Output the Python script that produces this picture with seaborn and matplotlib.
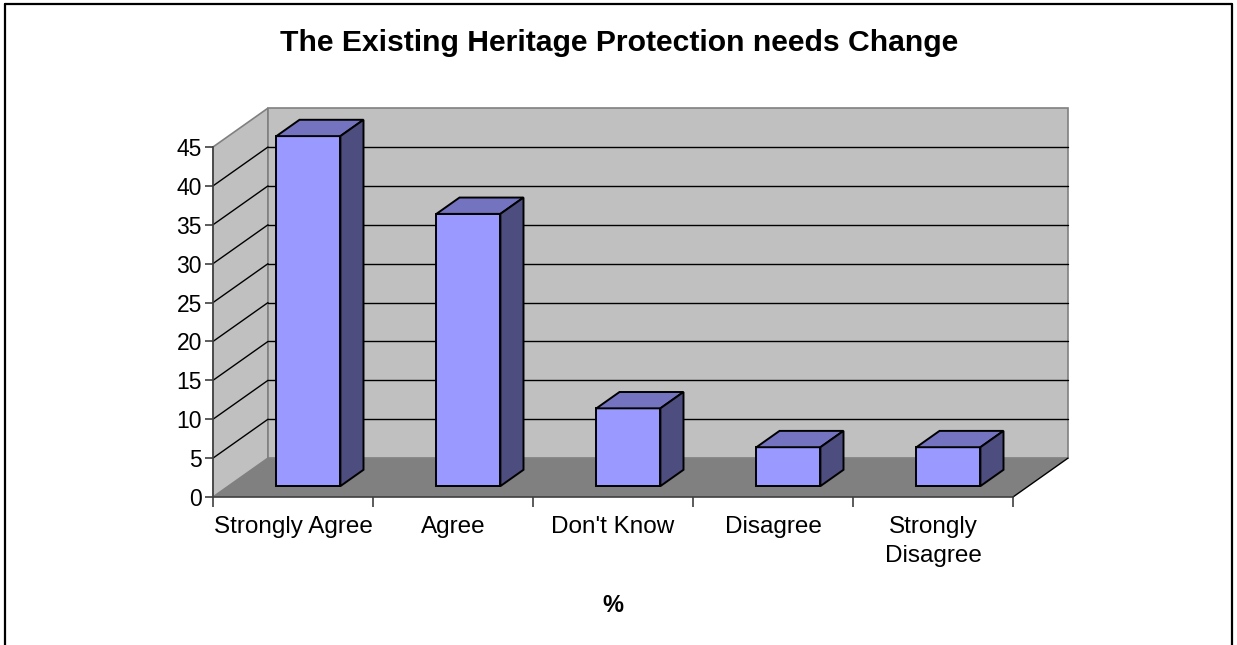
import matplotlib
matplotlib.use("Agg")
import matplotlib.pyplot as plt
from matplotlib.patches import Polygon
from matplotlib.lines import Line2D
import seaborn as sns
import pandas as pd

# ---- data ----
categories = ["Strongly Agree", "Agree", "Don't Know", "Disagree", "Strongly\nDisagree"]
values = [45, 35, 10, 5, 5]
yticks = [0, 5, 10, 15, 20, 25, 30, 35, 40, 45]
title = "The Existing Heritage Protection needs Change"
xlabel = "%"

sns.set_theme(style="white")
plt.rcParams['font.family'] = ['Liberation Sans', 'DejaVu Sans']
plt.rcParams['text.color'] = 'black'
plt.rcParams['axes.labelcolor'] = 'black'
plt.rcParams['xtick.color'] = 'black'
plt.rcParams['ytick.color'] = 'black'

W, H = 1237, 645
fig = plt.figure(figsize=(W / 100, H / 100), dpi=100)
fig.patch.set_facecolor("white")

# front frame: x 213..1013 px, y 497..147 px
ax = fig.add_axes([213 / W, (H - 497) / H, 800 / W, 350 / H])
ax.patch.set_alpha(0)

df = pd.DataFrame({"category": categories, "value": values})
sns.barplot(data=df, x="category", y="value", color="#9999FF", saturation=1,
            width=0.4, edgecolor="black", linewidth=1.4, ax=ax, zorder=5)

ax.set_xlim(-0.5, 4.5)
ax.set_ylim(0, 45)

# oblique depth (data units)
DX, DY = 55 / 160, 5.0
x0, x1 = -0.5, 4.5
ymax = yticks[-1]
wall_c, floor_c, edge_c = "#C0C0C0", "#808080", "#808080"

side = Polygon([(x0, 0), (x0 + DX, DY), (x0 + DX, ymax + DY), (x0, ymax)],
               closed=True, facecolor=wall_c, edgecolor=edge_c, lw=1.2,
               clip_on=False, zorder=0.5)
back = Polygon([(x0 + DX, DY), (x1 + DX, DY), (x1 + DX, ymax + DY), (x0 + DX, ymax + DY)],
               closed=True, facecolor=wall_c, edgecolor=edge_c, lw=1.2,
               clip_on=False, zorder=0.5)
floor = Polygon([(x0, 0), (x1, 0), (x1 + DX, DY), (x0 + DX, DY)],
                closed=True, facecolor=floor_c, edgecolor="none",
                clip_on=False, zorder=0.6)
for p in (side, back, floor):
    ax.add_patch(p)
ax.add_line(Line2D([x1, x1 + DX], [0, DY], color="black", lw=1.0, clip_on=False, zorder=0.7))

# gridlines on walls
for v in yticks[1:-1]:
    ax.add_line(Line2D([x0, x0 + DX], [v, v + DY], color="black", lw=1.0,
                       clip_on=False, zorder=0.8))
    ax.add_line(Line2D([x0 + DX, x1 + DX], [v + DY, v + DY], color="black", lw=1.0,
                       clip_on=False, zorder=0.8))

# 3D bars from the seaborn patches
f_front, depth = 0.28, 0.42
top_c, side_c = "#7373BF", "#4D4D80"
for patch in list(ax.patches):
    if patch in (side, back, floor):
        continue
    bx, bw, bh = patch.get_x(), patch.get_width(), patch.get_height()
    nx = bx + f_front * DX
    ny = f_front * DY
    patch.set_x(nx)
    patch.set_y(ny)
    patch.set_clip_on(False)
    ddx, ddy = depth * DX, depth * DY
    topf = Polygon([(nx, ny + bh), (nx + bw, ny + bh), (nx + bw + ddx, ny + bh + ddy),
                    (nx + ddx, ny + bh + ddy)], closed=True, facecolor=top_c,
                   edgecolor="black", lw=1.4, clip_on=False, zorder=5)
    sidef = Polygon([(nx + bw, ny), (nx + bw + ddx, ny + ddy), (nx + bw + ddx, ny + bh + ddy),
                     (nx + bw, ny + bh)], closed=True, facecolor=side_c,
                    edgecolor="black", lw=1.4, clip_on=False, zorder=5)
    ax.add_patch(topf)
    ax.add_patch(sidef)

# axes styling
for s in ("top", "right"):
    ax.spines[s].set_visible(False)
for s in ("left", "bottom"):
    ax.spines[s].set_color("#404040")
    ax.spines[s].set_linewidth(1.2)
    ax.spines[s].set_zorder(3)

ax.set_yticks(yticks)
ax.set_yticklabels([str(v) for v in yticks])
ax.tick_params(axis="y", which="major", direction="out", length=6, width=1.2,
               color="#404040", labelsize=16.5, pad=2, labelcolor="black", left=True)
ax.set_xticks(range(len(categories)))
ax.set_xticklabels(categories, linespacing=1.4)
ax.set_xticks([i - 0.5 for i in range(len(categories) + 1)], minor=True)
ax.tick_params(axis="x", which="major", length=0, labelsize=17.5, pad=14, labelcolor="black")
ax.tick_params(axis="x", which="minor", direction="out", length=7, width=1.2,
               color="#404040", bottom=True)
for lab in ax.get_xticklabels():
    lab.set_verticalalignment("top")

ax.set_ylabel("")
ax.set_xlabel(xlabel, fontsize=17, fontweight="bold", color="black")
ax.xaxis.set_label_coords(0.5, (497 - 605) / 350)
ax.xaxis.label.set_verticalalignment("center")

fig.text(619 / W, 1 - 43 / H, title, ha="center", va="center",
         fontsize=21.7, fontweight="bold", color="black")

# outer border (bottom edge cut off as in reference)
bl, bt, br = 4.5 / W, 1 - 3.5 / H, 1231.5 / W
for xs, ys in (([bl, bl], [0, bt]), ([bl, br], [bt, bt]), ([br, br], [bt, 0])):
    fig.add_artist(Line2D(xs, ys, transform=fig.transFigure, color="black", lw=1.6))

fig.savefig("out.png", dpi=100)
